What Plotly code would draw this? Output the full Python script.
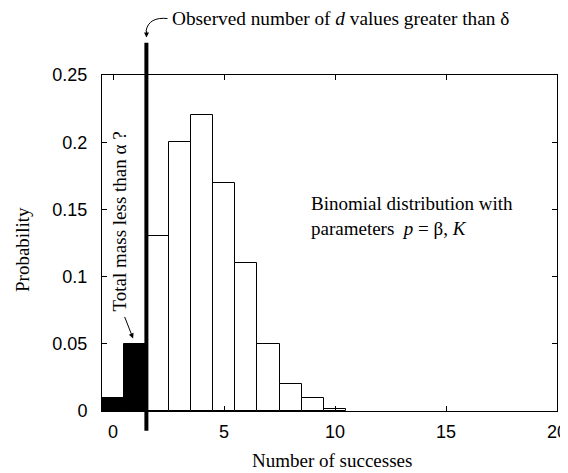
import plotly.graph_objects as go

# ---- data ----
successes = [0, 1, 2, 3, 4, 5, 6, 7, 8, 9, 10]
probability = [0.01, 0.05, 0.13, 0.20, 0.22, 0.17, 0.11, 0.05, 0.02, 0.01, 0.0015]
observed_cut = 1.5          # observed number of d values greater than delta (boundary)
x_ticks = [0, 5, 10, 15, 20]
y_ticks = [0, 0.05, 0.1, 0.15, 0.2, 0.25]
x_range = [-0.5, 20]
y_range = [0, 0.25]

colors = ["black" if s < observed_cut else "white" for s in successes]

fig = go.Figure()
fig.add_trace(go.Bar(
    x=successes, y=probability, width=1,
    marker=dict(color=colors, line=dict(color="black", width=1)),
    showlegend=False,
))

serif = "Liberation Serif, Times New Roman, serif"
sans = "Liberation Sans, Arial, sans-serif"

def xp(v):
    return (v - x_range[0]) / (x_range[1] - x_range[0])

def yp(v):
    return (v - y_range[0]) / (y_range[1] - y_range[0])

# thick vertical line at the observed boundary
fig.add_shape(type="line", xref="paper", yref="paper",
              x0=xp(observed_cut), x1=xp(observed_cut),
              y0=yp(-0.0147), y1=yp(0.274),
              line=dict(color="black", width=4))

# curved pointer from the top label to the line
fig.add_shape(type="path", xref="paper", yref="paper",
              path="M 0.144,1.168 C 0.118,1.172 0.1,1.16 0.0967,1.13",
              line=dict(color="black", width=1))
fig.add_annotation(xref="paper", yref="paper", x=xp(observed_cut), y=1.1116,
                   ax=0.3, ay=-8, axref="pixel", ayref="pixel",
                   showarrow=True, arrowhead=2, arrowsize=1, arrowwidth=1,
                   arrowcolor="black", text="")

fig.add_annotation(xref="paper", yref="paper", x=0.149, y=1.1667,
                   xanchor="left", yanchor="middle", showarrow=False,
                   text="Observed number of <i>d</i> values greater than δ",
                   font=dict(family=serif, size=19.3, color="black"))

fig.add_annotation(xref="paper", yref="paper", x=0.455, y=0.58,
                   xanchor="left", yanchor="middle", align="left", showarrow=False,
                   text="Binomial distribution with<br>parameters  <i>p</i> = β, <i>K</i>",
                   font=dict(family=serif, size=19, color="black"))

fig.add_annotation(xref="paper", yref="paper", x=0.038, y=0.565,
                   xanchor="center", yanchor="middle", showarrow=False, textangle=-90,
                   text="Total mass less than α ?",
                   font=dict(family=serif, size=19, color="black"))

# axis titles
fig.add_annotation(xref="paper", yref="paper", x=0.505, y=-0.146,
                   xanchor="center", yanchor="middle", showarrow=False,
                   text="Number of successes",
                   font=dict(family=serif, size=19, color="black"))
fig.add_annotation(xref="paper", yref="paper", x=-0.176, y=0.482,
                   xanchor="center", yanchor="middle", showarrow=False, textangle=-90,
                   text="Probability",
                   font=dict(family=serif, size=19, color="black"))

# straight arrow to the filled tail
fig.add_annotation(xref="x", yref="y", x=0.9, y=0.054,
                   ax=-9, ay=-23, showarrow=True, arrowhead=2, arrowsize=1,
                   arrowwidth=1, arrowcolor="black", text="")

axis_common = dict(showline=True, linecolor="black", linewidth=1, mirror="ticks",
                   ticks="inside", ticklen=5, tickcolor="black", tickwidth=1,
                   showgrid=False, zeroline=False, automargin=False,
                   tickfont=dict(family=sans, size=18, color="black"))

# page body has an 8px margin, so the figure is sized to fit the window
fig.update_layout(
    width=560, height=465,
    margin=dict(l=94, r=11, t=67, b=62),
    paper_bgcolor="white", plot_bgcolor="white",
    bargap=0,
    xaxis=dict(range=x_range, tickvals=x_ticks, ticklabelstandoff=4, **axis_common),
    yaxis=dict(range=y_range, tickvals=y_ticks, ticklabelstandoff=10, **axis_common),
)

fig.write_html("out.html")
